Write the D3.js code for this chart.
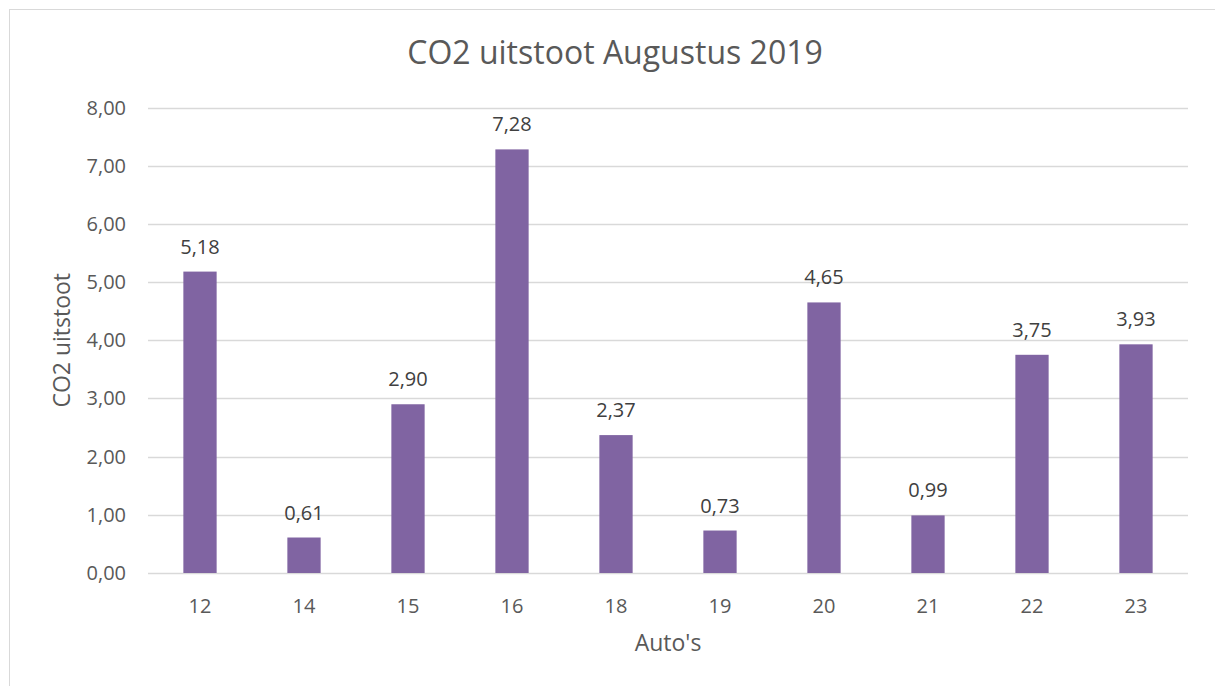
<!DOCTYPE html>
<html>
<head>
<meta charset="utf-8">
<script src="https://cdn.jsdelivr.net/npm/d3@7"></script>
<style>
  body { margin: 0; background: #fff; }
  text { font-family: "Open Sans", "Liberation Sans", sans-serif; fill: #595959; }
</style>
</head>
<body>
<script>
const autos = ['12', '14', '15', '16', '18', '19', '20', '21', '22', '23'];
const uitstoot = [5.18, 0.61, 2.90, 7.28, 2.37, 0.73, 4.65, 0.99, 3.75, 3.93];
const yTicks = [0, 1, 2, 3, 4, 5, 6, 7, 8];

const width = 1215, height = 686;
const margin = { top: 107.5, right: 25, bottom: 113, left: 148 };

const fmt = v => d3.format('.2f')(v).replace('.', ',');

const svg = d3.select('body').append('svg')
	.attr('width', width)
	.attr('height', height);

// chart frame
svg.append('rect')
	.attr('x', 9.5).attr('y', 9.5)
	.attr('width', width + 10).attr('height', height + 10)
	.attr('fill', 'none')
	.attr('stroke', '#d9d9d9')
	.attr('stroke-width', 1);

const x = d3.scaleBand()
	.domain(autos)
	.range([margin.left, width - margin.right - 2])
	.paddingInner(0.68)
	.paddingOuter(0.34);

const y = d3.scaleLinear()
	.domain([0, 8])
	.range([height - margin.bottom, margin.top]);

// gridlines
svg.append('g')
	.selectAll('line')
	.data(yTicks)
	.join('line')
	.attr('x1', margin.left)
	.attr('x2', width - margin.right - 2)
	.attr('y1', d => Math.round(y(d)) + 0.5)
	.attr('y2', d => Math.round(y(d)) + 0.5)
	.attr('stroke', '#d9d9d9')
	.attr('stroke-width', 1.3);

// y tick labels
svg.append('g')
	.selectAll('text')
	.data(yTicks)
	.join('text')
	.attr('x', 126)
	.attr('y', d => y(d))
	.attr('dy', '0.35em')
	.attr('text-anchor', 'end')
	.style('font-size', '20px')
	.text(fmt);

// bars
svg.append('g')
	.selectAll('rect')
	.data(uitstoot)
	.join('rect')
	.attr('x', (d, i) => x(autos[i]))
	.attr('width', x.bandwidth())
	.attr('y', d => y(d))
	.attr('height', d => y(0) - y(d))
	.attr('fill', '#8064a2');

// data labels
svg.append('g')
	.selectAll('text')
	.data(uitstoot)
	.join('text')
	.attr('x', (d, i) => x(autos[i]) + x.bandwidth() / 2)
	.attr('y', d => y(d) - 18)
	.attr('text-anchor', 'middle')
	.style('font-size', '20px')
	.style('fill', '#404040')
	.text(fmt);

// x tick labels
svg.append('g')
	.selectAll('text')
	.data(autos)
	.join('text')
	.attr('x', d => x(d) + x.bandwidth() / 2)
	.attr('y', y(0) + 40)
	.attr('text-anchor', 'middle')
	.style('font-size', '20px')
	.text(d => d);

// title
svg.append('text')
	.attr('x', (margin.left + width - margin.right) / 2 - 54)
	.attr('y', 64)
	.attr('text-anchor', 'middle')
	.style('font-size', '32px')
	.text('CO2 uitstoot Augustus 2019');

// axis titles
svg.append('text')
	.attr('x', 668)
	.attr('y', 651)
	.attr('text-anchor', 'middle')
	.style('font-size', '23px')
	.text("Auto's");

svg.append('text')
	.attr('transform', `translate(70,${(margin.top + height - margin.bottom) / 2}) rotate(-90)`)
	.attr('text-anchor', 'middle')
	.style('font-size', '23px')
	.text('CO2 uitstoot');
</script>
</body>
</html>
